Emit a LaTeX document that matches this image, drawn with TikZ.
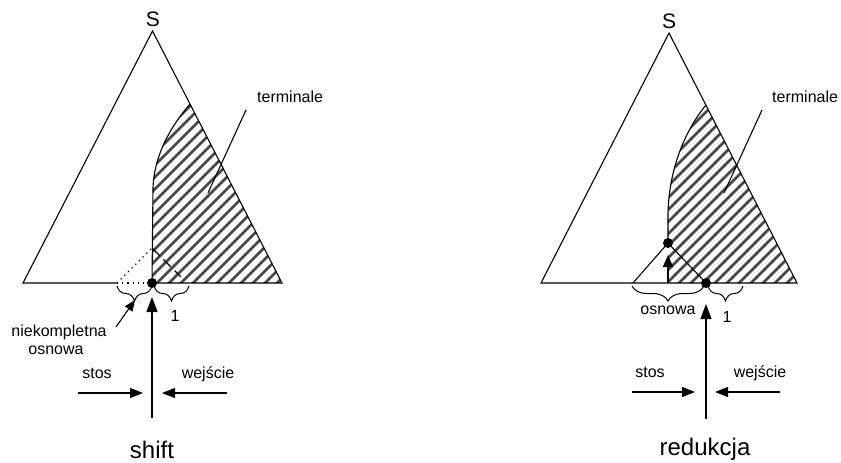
\documentclass[tikz,border=0pt]{standalone}
\usepackage{fontspec}
\setmainfont{Liberation Sans}
\usetikzlibrary{arrows.meta,decorations.pathreplacing}
\begin{document}
\begin{tikzpicture}[x=1pt,y=-1pt,
  edge/.style={line width=1.1pt, line join=miter},
  hatchln/.style={line width=2.6pt, black!72},
  lbl/.style={font=\fontsize{16}{19}\selectfont, inner sep=0pt, anchor=base},
  big/.style={font=\fontsize{24}{28}\selectfont, inner sep=0pt, anchor=base},
  apexlbl/.style={font=\fontsize{21}{25}\selectfont, inner sep=0pt, anchor=base},
  blob/.style={circle, fill=black, inner sep=0pt, minimum size=10pt},
  tip/.style={-{Triangle[length=13pt,width=10pt]}, line width=1.1pt},
  uptip/.style={-{Triangle[length=15pt,width=11pt]}, line width=1.1pt},
  brc/.style={decorate, decoration={brace, amplitude=15pt}, line width=1pt},
  dotline/.style={line width=1.1pt, dash pattern=on 1.2pt off 4pt},
  dashline/.style={line width=1.1pt, dash pattern=on 11pt off 5pt}
]
\useasboundingbox (0,0) rectangle (841,463);

% ================= left diagram (shift) =================
\coordinate (LA) at (152.5,31);
\coordinate (LL) at (23,283);
\coordinate (LR) at (282,283);
\coordinate (LP) at (190,104);
\coordinate (LQ) at (153,188);
\coordinate (LD) at (152,283);
\coordinate (LB) at (117,283);
\coordinate (LT) at (152,248);
\coordinate (LE) at (181,277);
\begin{scope}
  \clip (LP) .. controls (166,132) and (154,160) .. (LQ) -- (LD) -- (LR) -- cycle;
  \foreach \k in {-40,-28,...,300} \draw[hatchln] (\k,300) -- (\k+300,0);
\end{scope}
\draw[edge] (LP) .. controls (166,132) and (154,160) .. (LQ) -- (LD);
\draw[edge] (LB) -- (LL) -- (LA) -- (LR) -- (LD);
\draw[dotline] (LB) -- (LD);
\draw[dotline] (LB) -- (LT);
\draw[dashline] (LT) -- (LE);
\node[blob] (Ldot) at (LD) {};
\node[apexlbl] (LS) at (153,27) {S};

\draw[brc] (152,286) -- (117,286);
\draw[brc] (189,286) -- (154,286);
\node[lbl] (Lone) at (175,321) {1};

\node[lbl] (Lnk1) at (59,336) {niekompletna};
\node[lbl] (Lnk2) at (56,354) {osnowa};
\coordinate (Lnkfrom) at (116,327);
\coordinate (Lnkto) at (135,300);
\draw[-{Triangle[length=11pt,width=9pt]}, line width=1.1pt] (Lnkfrom) -- (Lnkto);

\node[lbl, anchor=base west] (Lterm) at (257,102) {terminale};
\coordinate (Ltermfrom) at (246,110);
\coordinate (Ltermto) at (208,193);
\draw[edge] (Ltermfrom) -- (Ltermto);

\coordinate (Lbot) at (152,418);
\coordinate (Ltop) at (152,297);
\draw[uptip] (Lbot) -- (Ltop);

\coordinate (Lstos1) at (78,393);
\coordinate (Lstos2) at (143,393);
\coordinate (Lwej1) at (227,393);
\coordinate (Lwej2) at (162,393);
\draw[tip] (Lstos1) -- (Lstos2);
\draw[tip] (Lwej1) -- (Lwej2);
\node[lbl] (Lstos) at (97,378) {stos};
\node[lbl] (Lwej) at (208,378) {wejście};
\node[big] (Lshift) at (152,458) {shift};

% ================= right diagram (redukcja) =================
\coordinate (RA) at (669,33);
\coordinate (RL) at (541,283);
\coordinate (RR) at (797,283);
\coordinate (RP) at (706,105);
\coordinate (RQ) at (668,213);
\coordinate (RU) at (668,243);
\coordinate (RD) at (706,283);
\coordinate (RB) at (633,283);
\coordinate (RF) at (668,283);
\coordinate (RH) at (668,255);
\begin{scope}
  \clip (RP) .. controls (683,133) and (669,172) .. (RQ) -- (RF) -- (RR) -- cycle;
  \foreach \k in {470,482,...,820} \draw[hatchln] (\k,300) -- (\k+300,0);
\end{scope}
\draw[edge] (RP) .. controls (683,133) and (669,172) .. (RQ) -- (RU);
\draw[edge] (RL) -- (RA) -- (RR) -- cycle;
\draw[edge] (RB) -- (RU) -- (RD);
\draw[-{Triangle[length=12pt,width=10pt]}, line width=1.7pt] (RF) -- (RH);
\node[blob] (Rdot1) at (RU) {};
\node[blob] (Rdot2) at (RD) {};
\node[apexlbl] (RS) at (669,28) {S};

\draw[brc] (704,286) -- (632,286);
\draw[brc] (743,286) -- (708,286);
\node[lbl] (Rosn) at (668,314) {osnowa};
\node[lbl] (Rone) at (727,322) {1};

\node[lbl, anchor=base west] (Rterm) at (772,102) {terminale};
\coordinate (Rtermfrom) at (762,110);
\coordinate (Rtermto) at (724,193);
\draw[edge] (Rtermfrom) -- (Rtermto);

\coordinate (Rbot) at (706,419);
\coordinate (Rtop) at (706,304);
\draw[uptip] (Rbot) -- (Rtop);

\coordinate (Rstos1) at (632,392);
\coordinate (Rstos2) at (695,392);
\coordinate (Rwej1) at (780,392);
\coordinate (Rwej2) at (715,392);
\draw[tip] (Rstos1) -- (Rstos2);
\draw[tip] (Rwej1) -- (Rwej2);
\node[lbl] (Rstos) at (650,377) {stos};
\node[lbl] (Rwej) at (760,377) {wejście};
\node[big] (Rred) at (705,455) {redukcja};
\end{tikzpicture}
\end{document}
